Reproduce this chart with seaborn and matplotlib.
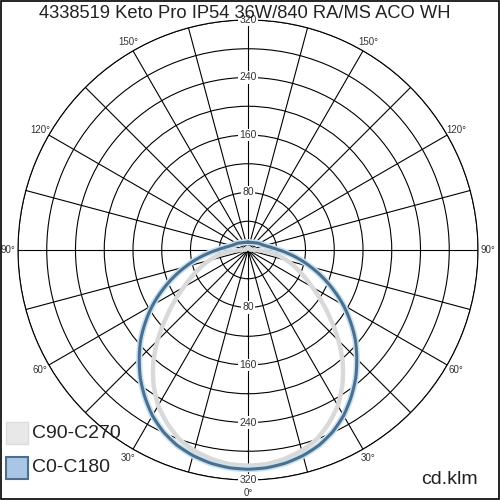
import numpy as np
import pandas as pd
import seaborn as sns
import matplotlib.pyplot as plt
from matplotlib.patches import Rectangle

title = "4338519 Keto Pro IP54 36W/840 RA/MS ACO WH"
unit_label = "cd.klm"

# gamma angles (deg) and intensities (cd/klm), mirrored for both halves
gamma = [0, 5, 10, 15, 20, 25, 30, 35, 40, 45, 50, 55, 60, 65, 70, 75, 80, 85, 90,
         95, 100, 105, 110, 120, 135, 150, 165, 180]
c0_c180 = [305, 304, 301, 296, 289, 279, 266, 250, 233, 214, 195, 174, 153, 131, 110,
           90, 72, 56, 43, 34, 28, 24, 21, 18, 14, 12, 11, 11]
c90_c270 = [300, 299, 295, 289, 280, 266, 250, 229, 205, 178, 150, 125, 103, 85, 70,
            56, 42, 26, 10, 5, 3, 3, 3, 3, 3, 3, 3, 3]

r_ticks = [40, 80, 120, 160, 200, 240, 280, 320]
r_labels = [80, 160, 240, 320]
angle_labels = [30, 60, 90, 120, 150]

def mirrored(vals):
    g = np.array(gamma, dtype=float)
    v = np.array(vals, dtype=float)
    theta = np.deg2rad(np.concatenate([-g[::-1], g[1:]]))
    r = np.concatenate([v[::-1], v[1:]])
    return pd.DataFrame({"theta": theta, "r": r})

df_c90 = mirrored(c90_c270)
df_c0 = mirrored(c0_c180)

sns.set_style("white")
plt.rcParams['font.family'] = ['Liberation Sans', 'DejaVu Sans']

fig = plt.figure(figsize=(5, 5), dpi=100)
ax = fig.add_axes([0.036, 0.04, 0.92, 0.92], projection='polar')
ax.set_theta_zero_location('S')
ax.set_rlim(0, 320)
ax.set_rticks(r_ticks)
ax.set_yticklabels([])
ax.set_thetagrids(np.arange(0, 360, 15), labels=[''] * 24)
ax.grid(True, color='black', lw=0.8)
ax.spines['polar'].set_color('black')
ax.spines['polar'].set_linewidth(0.8)
ax.set_facecolor('white')

# curves
sns.lineplot(data=df_c90, x="theta", y="r", ax=ax, sort=False, estimator=None,
             color='#d9d9d9', lw=3.2)
sns.lineplot(data=df_c0, x="theta", y="r", ax=ax, sort=False, estimator=None,
             color='#c5e3f2', lw=4.5)
sns.lineplot(data=df_c0, x="theta", y="r", ax=ax, sort=False, estimator=None,
             color='#4d6e8c', lw=2.2)
for ln in ax.lines:
    ln.get_path()._interpolation_steps = 20
    ln.set_solid_joinstyle('round')
ax.set_xlabel('')
ax.set_ylabel('')
ax.set_rlim(0, 320)

# radial value labels, top and bottom
for v in r_labels:
    for th in (0, np.pi):
        ax.text(th, v, str(v), ha='center', va='center', fontsize=7.5, color='#333333',
                bbox=dict(boxstyle='square,pad=0.1', fc='white', ec='none'), zorder=5)

# angle labels
for a in angle_labels:
    for s in (-1, 1):
        ax.text(np.deg2rad(s * a), 334, f"{a}°", ha='center', va='center',
                fontsize=7, color='#333333')
ax.text(0, 338, "0°", ha='center', va='center', fontsize=7, color='#333333')

fig.text(0.49, 0.972, title, ha='center', va='center', fontsize=13.2, color='#222222')

# legend
fig.patches.append(Rectangle((0.011, 0.112), 0.044, 0.044, transform=fig.transFigure,
                             fc='#e8e8e8', ec='#dcdcdc', lw=1))
fig.text(0.064, 0.134, "C90-C270", ha='left', va='center', fontsize=14, color='#222222')
fig.patches.append(Rectangle((0.011, 0.042), 0.044, 0.044, transform=fig.transFigure,
                             fc='#a9c6e6', ec='#4d6e8c', lw=1.5))
fig.text(0.064, 0.064, "C0-C180", ha='left', va='center', fontsize=14, color='#222222')
fig.text(0.955, 0.040, unit_label, ha='right', va='center', fontsize=14, color='#222222')

# outer frame
fig.patches.append(Rectangle((0.002, 0.002), 0.996, 0.996, transform=fig.transFigure,
                             fc='none', ec='black', lw=1.2))

fig.savefig("out.png", dpi=100)
